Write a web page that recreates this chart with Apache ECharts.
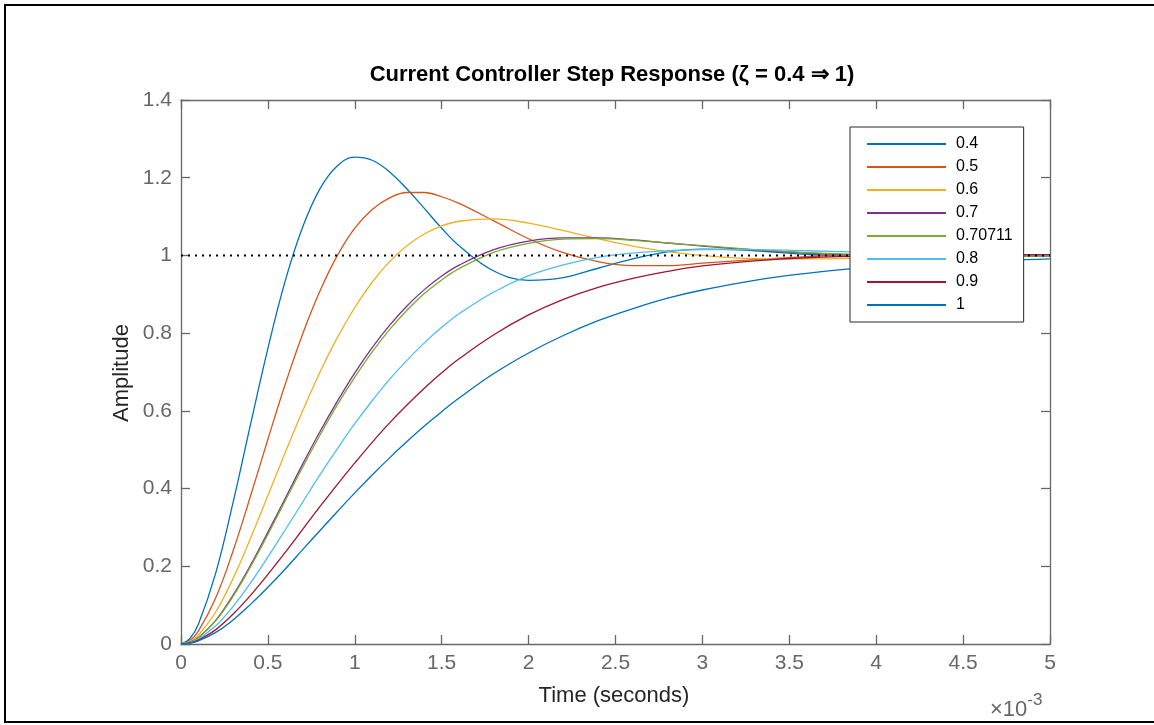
<!DOCTYPE html>
<html>
<head>
<meta charset="utf-8">
<title>Current Controller Step Response</title>
<script src="https://cdn.jsdelivr.net/npm/echarts@6/dist/echarts.min.js"></script>
<style>
  html, body { margin: 0; padding: 0; background: #fff; }
  #main { width: 1154px; height: 725px; }
</style>
</head>
<body>
<div id="main"></div>
<script>
// time in ms (axis shown as x 10^-3 s)
const times = [0, 0.05, 0.1, 0.2, 0.3, 0.4, 0.5, 0.6, 0.7, 0.8, 0.9, 1.0, 1.1, 1.2, 1.3, 1.4, 1.5, 1.6,
  1.8, 2.0, 2.2, 2.4, 2.6, 2.8, 3.0, 3.3, 3.6, 4.0, 4.5, 5.0]

const zetaNames = ['0.4', '0.5', '0.6', '0.7', '0.70711', '0.8', '0.9', '1']

const amp04 = [0, 0.0135, 0.051, 0.183, 0.365, 0.565, 0.761, 0.935, 1.073, 1.172, 1.231, 1.253, 1.245, 1.215, 1.171, 1.121, 1.070, 1.025,
  0.960, 0.936, 0.943, 0.967, 0.991, 1.009, 1.016, 1.012, 1.003, 0.996, 0.998, 1.001]
const amp05 = [0, 0.0086, 0.033, 0.119, 0.240, 0.381, 0.527, 0.669, 0.798, 0.909, 1.000, 1.070, 1.118, 1.148, 1.162, 1.162, 1.151, 1.134,
  1.089, 1.043, 1.007, 0.984, 0.974, 0.974, 0.980, 0.989, 0.997, 1.004, 1.002, 1.000]
const amp06 = [0, 0.0060, 0.023, 0.083, 0.169, 0.272, 0.382, 0.493, 0.600, 0.700, 0.789, 0.866, 0.931, 0.984, 1.025, 1.055, 1.076, 1.088,
  1.094, 1.083, 1.064, 1.043, 1.024, 1.010, 1.000, 0.992, 0.991, 0.994, 0.998, 1.000]
const amp07 = [0, 0.0044, 0.017, 0.061, 0.126, 0.203, 0.288, 0.375, 0.463, 0.547, 0.625, 0.698, 0.763, 0.820, 0.870, 0.912, 0.947, 0.975,
  1.015, 1.037, 1.045, 1.045, 1.040, 1.032, 1.024, 1.014, 1.006, 1.000, 0.998, 0.998]
const amp0707 = [0, 0.0043, 0.016, 0.060, 0.123, 0.199, 0.282, 0.369, 0.455, 0.538, 0.616, 0.687, 0.752, 0.809, 0.859, 0.902, 0.937, 0.966,
  1.008, 1.031, 1.042, 1.043, 1.039, 1.032, 1.025, 1.015, 1.007, 1.001, 0.998, 0.998]
const amp08 = [0, 0.0034, 0.013, 0.047, 0.097, 0.157, 0.224, 0.294, 0.365, 0.436, 0.503, 0.567, 0.626, 0.681, 0.730, 0.775, 0.815, 0.850,
  0.906, 0.948, 0.976, 0.995, 1.006, 1.012, 1.015, 1.015, 1.012, 1.008, 1.004, 1.001]
const amp09 = [0, 0.0027, 0.010, 0.037, 0.077, 0.125, 0.179, 0.236, 0.295, 0.354, 0.411, 0.466, 0.519, 0.569, 0.615, 0.658, 0.698, 0.734,
  0.796, 0.847, 0.887, 0.918, 0.941, 0.959, 0.973, 0.986, 0.994, 0.999, 1.001, 1.002]
const amp10 = [0, 0.0022, 0.008, 0.030, 0.062, 0.102, 0.146, 0.193, 0.243, 0.292, 0.341, 0.389, 0.435, 0.479, 0.521, 0.561, 0.598, 0.633,
  0.696, 0.749, 0.794, 0.832, 0.863, 0.890, 0.911, 0.936, 0.954, 0.971, 0.983, 0.991]

const amps = [amp04, amp05, amp06, amp07, amp0707, amp08, amp09, amp10]
const colors = ['#0072BD', '#D95319', '#EDB120', '#7E2F8E', '#77AC30', '#4DBEEE', '#A2142F', '#0072BD']

const refX = [0, 5]
const refY = [1, 1]

const chart = echarts.init(document.getElementById('main'))

const axisGray = '#676767'
const font = 'Arial, "Liberation Sans", Helvetica, sans-serif'

const series = amps.map((vals, i) => ({
  name: zetaNames[i],
  type: 'line',
  smooth: 0.4,
  symbol: 'none',
  data: times.map((t, j) => [t, vals[j]]),
  lineStyle: {width: 1.3, color: colors[i]},
  itemStyle: {color: colors[i]},
  z: 2
}))

series.push({
  name: 'ref',
  type: 'line',
  symbol: 'none',
  data: refX.map((t, j) => [t, refY[j]]),
  lineStyle: {width: 2, color: '#000', type: [2, 5]},
  z: 3,
  silent: true
})

// shared axis look, MATLAB style box with inward ticks
function axisBase(showLabel) {
  return {
    type: 'value',
    axisLine: {show: true, onZero: false, lineStyle: {color: axisGray, width: 1.3}},
    axisTick: {show: true, inside: true, length: 9, lineStyle: {color: axisGray, width: 1.3}},
    axisLabel: showLabel ? {color: axisGray, fontSize: 21, margin: 9, fontFamily: font} : {show: false},
    splitLine: {show: false}
  }
}

const option = {
  animation: false,
  textStyle: {fontFamily: font},
  title: {
    text: 'Current Controller Step Response (ζ = 0.4 ⇒ 1)',
    left: 607,
    top: 59,
    textAlign: 'center',
    textStyle: {fontSize: 22, fontWeight: 'bold', color: '#000', fontFamily: font}
  },
  grid: {left: 181, top: 100, right: 104, bottom: 81},
  legend: {
    data: zetaNames,
    orient: 'vertical',
    left: 850,
    top: 127,
    itemWidth: 79,
    itemHeight: 14,
    itemGap: 7,
    padding: [9, 11, 9, 16],
    backgroundColor: '#fff',
    borderColor: '#262626',
    borderWidth: 1,
    borderRadius: 0,
    itemStyle: {opacity: 0},
    textStyle: {fontSize: 16, color: '#000', padding: [0, 0, 0, 5], fontFamily: font},
    z: 10
  },
  xAxis: [
    Object.assign(axisBase(true), {min: 0, max: 5, interval: 0.5, position: 'bottom'}),
    Object.assign(axisBase(false), {min: 0, max: 5, interval: 0.5, position: 'top'})
  ],
  yAxis: [
    Object.assign(axisBase(true), {min: 0, max: 1.4, interval: 0.2, position: 'left'}),
    Object.assign(axisBase(false), {min: 0, max: 1.4, interval: 0.2, position: 'right'})
  ],
  series: series,
  graphic: [
    {
      type: 'rect',
      shape: {x: 5, y: 5, width: 1160, height: 717},
      style: {fill: 'none', stroke: '#000', lineWidth: 2},
      silent: true
    },
    {
      type: 'text',
      x: 614,
      y: 696,
      style: {text: 'Time (seconds)', font: '22px ' + font, fill: '#262626', align: 'center', verticalAlign: 'middle'}
    },
    {
      type: 'text',
      x: 122,
      y: 373,
      rotation: Math.PI / 2,
      style: {text: 'Amplitude', font: '22px ' + font, fill: '#262626', align: 'center', verticalAlign: 'middle'}
    },
    {
      type: 'text',
      left: 990,
      top: 692,
      style: {
        text: '{a|×10}{b|-3}',
        rich: {
          a: {fontSize: 22, fill: axisGray, fontFamily: font, verticalAlign: 'bottom'},
          b: {fontSize: 17, fill: axisGray, fontFamily: font, verticalAlign: 'top', padding: [0, 0, 12, 0]}
        }
      }
    }
  ]
}

chart.setOption(option)
</script>
</body>
</html>
